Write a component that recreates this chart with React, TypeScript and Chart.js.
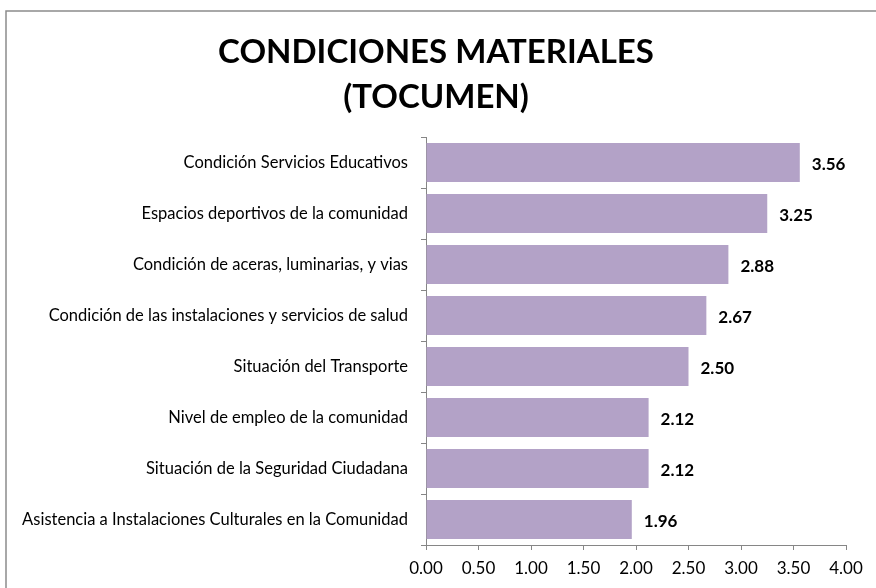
import React, { useEffect, useRef } from "react";
import { Chart, registerables } from "chart.js";

Chart.register(...registerables);

const categories: string[] = [
  "Condición Servicios Educativos",
  "Espacios deportivos de la comunidad",
  "Condición de aceras, luminarias, y vias",
  "Condición de las instalaciones y servicios de salud",
  "Situación del Transporte",
  "Nivel de empleo de la comunidad",
  "Situación de la Seguridad Ciudadana",
  "Asistencia a Instalaciones Culturales en la Comunidad",
];

const values: number[] = [3.56, 3.25, 2.88, 2.67, 2.5, 2.12, 2.12, 1.96];

const titleLines: string[] = ["CONDICIONES MATERIALES", "(TOCUMEN)"];

const FONT = "Lato, 'Open Sans', sans-serif";

export default function App() {
  const ref = useRef<HTMLCanvasElement | null>(null);

  useEffect(() => {
    if (!ref.current) return;

    const framePlugin = {
      id: "frame",
      beforeDraw(chart: any) {
        const ctx = chart.ctx;
        ctx.save();
        ctx.fillStyle = "#ffffff";
        ctx.fillRect(0, 0, chart.width, chart.height);
        ctx.strokeStyle = "#8c8c8c";
        ctx.lineWidth = 1.5;
        ctx.beginPath();
        ctx.moveTo(6, chart.height);
        ctx.lineTo(6, 11);
        ctx.lineTo(chart.width, 11);
        ctx.stroke();
        ctx.fillStyle = "#000000";
        ctx.font = `bold 33px ${FONT}`;
        ctx.textAlign = "center";
        ctx.textBaseline = "middle";
        ctx.fillText(titleLines[0], 436, 52);
        ctx.fillText(titleLines[1], 436, 97);
        ctx.restore();
      },
    };

    const labelPlugin = {
      id: "valueLabels",
      afterDatasetsDraw(chart: any) {
        const ctx = chart.ctx;
        const meta = chart.getDatasetMeta(0);
        ctx.save();
        ctx.fillStyle = "#000000";
        ctx.font = `bold 17px ${FONT}`;
        ctx.textAlign = "left";
        ctx.textBaseline = "middle";
        meta.data.forEach((el: any, i: number) => {
          ctx.fillText(values[i].toFixed(2), el.x + 12, el.y + 2);
        });
        ctx.restore();
      },
    };

    const chart = new Chart(ref.current, {
      type: "bar",
      data: {
        labels: categories,
        datasets: [
          {
            data: values,
            backgroundColor: "#B3A2C7",
            borderWidth: 0,
            categoryPercentage: 1,
            barPercentage: 0.765,
          },
        ],
      },
      options: {
        indexAxis: "y",
        animation: false,
        responsive: false,
        maintainAspectRatio: false,
        layout: { padding: { top: 137, right: 30, bottom: 0, left: 0 } },
        plugins: {
          legend: { display: false },
          title: { display: false },
          tooltip: { enabled: false },
        },
        scales: {
          x: {
            min: 0,
            max: 4,
            ticks: {
              stepSize: 0.5,
              color: "#000000",
              font: { family: FONT, size: 17 },
              padding: 8,
              callback: (v: any) => Number(v).toFixed(2),
            },
            grid: {
              drawOnChartArea: false,
              drawTicks: true,
              tickLength: 5,
              color: "#868686",
            },
            border: { display: true, color: "#868686" },
            afterFit: (scale: any) => {
              scale.height = 43;
            },
          },
          y: {
            ticks: {
              color: "#000000",
              font: { family: FONT, size: 16.5 },
              padding: 13,
            },
            grid: {
              drawOnChartArea: false,
              drawTicks: true,
              tickLength: 5,
              offset: true,
              color: "#868686",
            },
            border: { display: true, color: "#868686" },
            afterFit: (scale: any) => {
              scale.width = 426;
            },
          },
        },
      },
      plugins: [framePlugin, labelPlugin],
    });

    return () => chart.destroy();
  }, []);

  return (
    <div style={{ position: "absolute", left: 0, top: 0, width: 876, height: 588 }}>
      <canvas ref={ref} width={876} height={588} style={{ display: "block" }} />
    </div>
  );
}
